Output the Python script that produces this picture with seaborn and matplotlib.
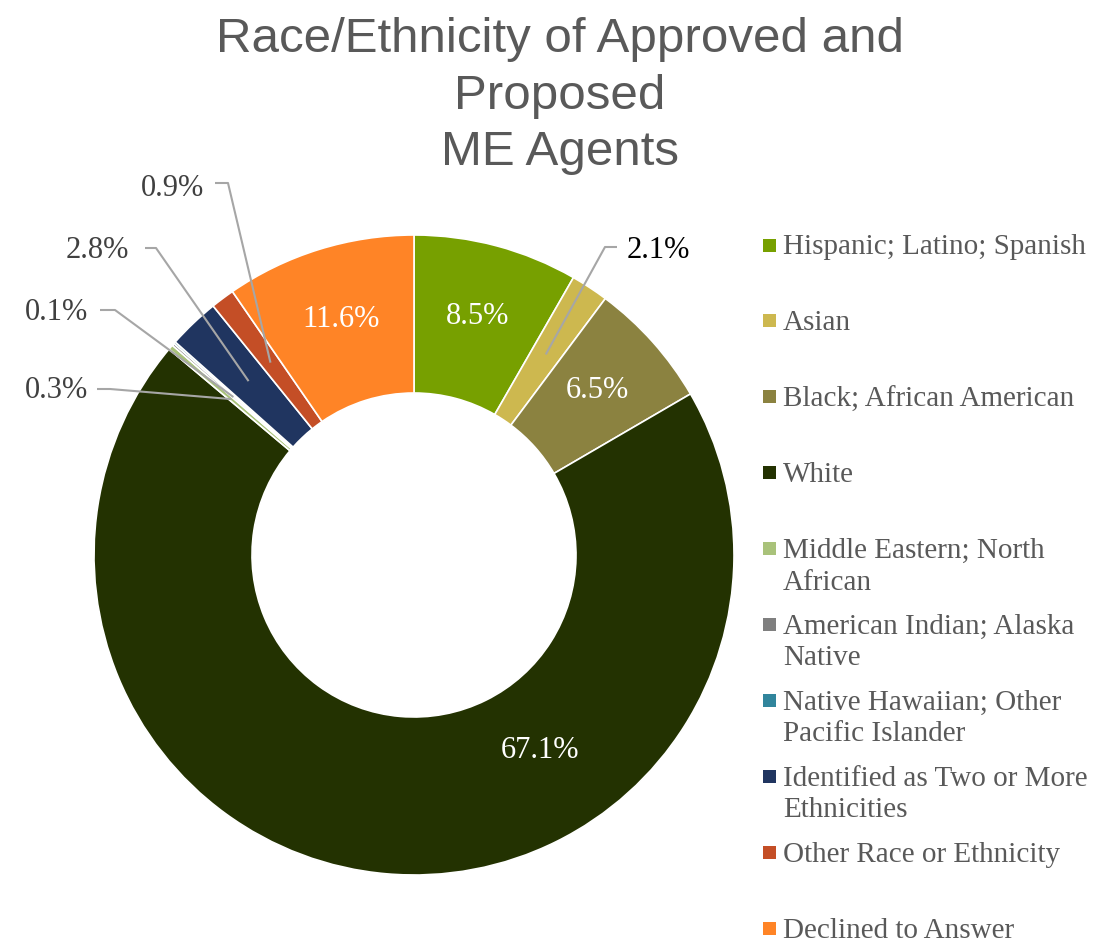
import textwrap
import numpy as np
import matplotlib
matplotlib.use("Agg")
import matplotlib.pyplot as plt
from matplotlib.patches import Rectangle
import seaborn as sns

W, H = 1097, 940

title = "Race/Ethnicity of Approved and\nProposed\nME Agents"
categories = ["Hispanic; Latino; Spanish", "Asian", "Black; African American", "White",
              "Middle Eastern; North African", "American Indian; Alaska Native",
              "Native Hawaiian; Other Pacific Islander",
              "Identified as Two or More Ethnicities",
              "Other Race or Ethnicity", "Declined to Answer"]
# slice sizes as drawn in the ring (%)
shares = [8.3, 1.9, 6.4, 69.5, 0.25, 0.12, 0.1, 2.6, 1.2, 9.6]
# data labels as printed (no label on Native Hawaiian)
pct_labels = ["8.5%", "2.1%", "6.5%", "67.1%", "0.3%", "0.1%", "", "2.8%", "0.9%", "11.6%"]
colors = ["#77A000", "#CDB84F", "#8B8240", "#233201", "#A9C27A", "#7F7F7F",
          "#31859C", "#203560", "#C44E26", "#FF8426"]

sns.set_theme(style="white")
sns.set_palette(colors)
plt.rcParams["font.family"] = ["Liberation Serif", "DejaVu Serif"]

def Y(py):
    return H - py

fig = plt.figure(figsize=(W / 100, H / 100), dpi=100)
ax = fig.add_axes([0, 0, 1, 1])

R = 320
cx, cy = 414, Y(555)
wedges, _ = ax.pie(shares, colors=sns.color_palette(), startangle=90, counterclock=False,
                   radius=R, center=(cx, cy),
                   wedgeprops=dict(width=158, edgecolor="white", linewidth=1.2))
ax.set_xlim(0, W)
ax.set_ylim(0, H)
ax.set_aspect("equal")
ax.axis("off")

def mid_point(w, frac=0.75):
    a = np.deg2rad((w.theta1 + w.theta2) / 2)
    return cx + frac * R * np.cos(a), cy + frac * R * np.sin(a)

# outside labels: text centre, then the two points of the leader line before the wedge
outside = {
    1: ((658, 250), [(617, 247), (605, 247)], "black"),
    4: ((57, 390), [(97, 389), (110, 389)], "#404040"),
    5: ((57, 312), [(100, 310), (115, 310)], "#404040"),
    7: ((97, 250), [(145, 248), (156, 248)], "#404040"),
    8: ((172, 188), [(215, 183), (228, 183)], "#404040"),
}
white_pos = (540, 750)

for i, (w, lab) in enumerate(zip(wedges, pct_labels)):
    if not lab:
        continue
    if i in outside:
        (tx, ty), pts, col = outside[i]
        mx, my = mid_point(w)
        xs = [p[0] for p in pts] + [mx]
        ys = [Y(p[1]) for p in pts] + [my]
        ax.plot(xs, ys, color="#A6A6A6", lw=1.5, solid_capstyle="butt")
        ax.text(tx, Y(ty), lab, ha="center", va="center", fontsize=22, color=col)
    elif i == 3:
        ax.text(white_pos[0], Y(white_pos[1]), lab, ha="center", va="center",
                fontsize=22, color="white")
    else:
        mx, my = mid_point(w, 0.77)
        ax.text(mx, my, lab, ha="center", va="center", fontsize=22, color="white")

ax.text(560, Y(17), title, ha="center", va="top", fontsize=35.5, color="#595959",
        family=["Liberation Sans", "DejaVu Sans"], linespacing=1.33)

# legend, one entry every ~76 px
for i, cat in enumerate(categories):
    y0 = 245 + i * 75.9
    ax.add_patch(Rectangle((763, Y(y0) - 6.5), 13, 13, facecolor=colors[i], edgecolor="none"))
    ax.text(783, Y(y0 - 10.5), textwrap.fill(cat, 25), ha="left", va="top",
            fontsize=21, color="#595959", linespacing=1.27)

fig.savefig("out.png", dpi=100)
